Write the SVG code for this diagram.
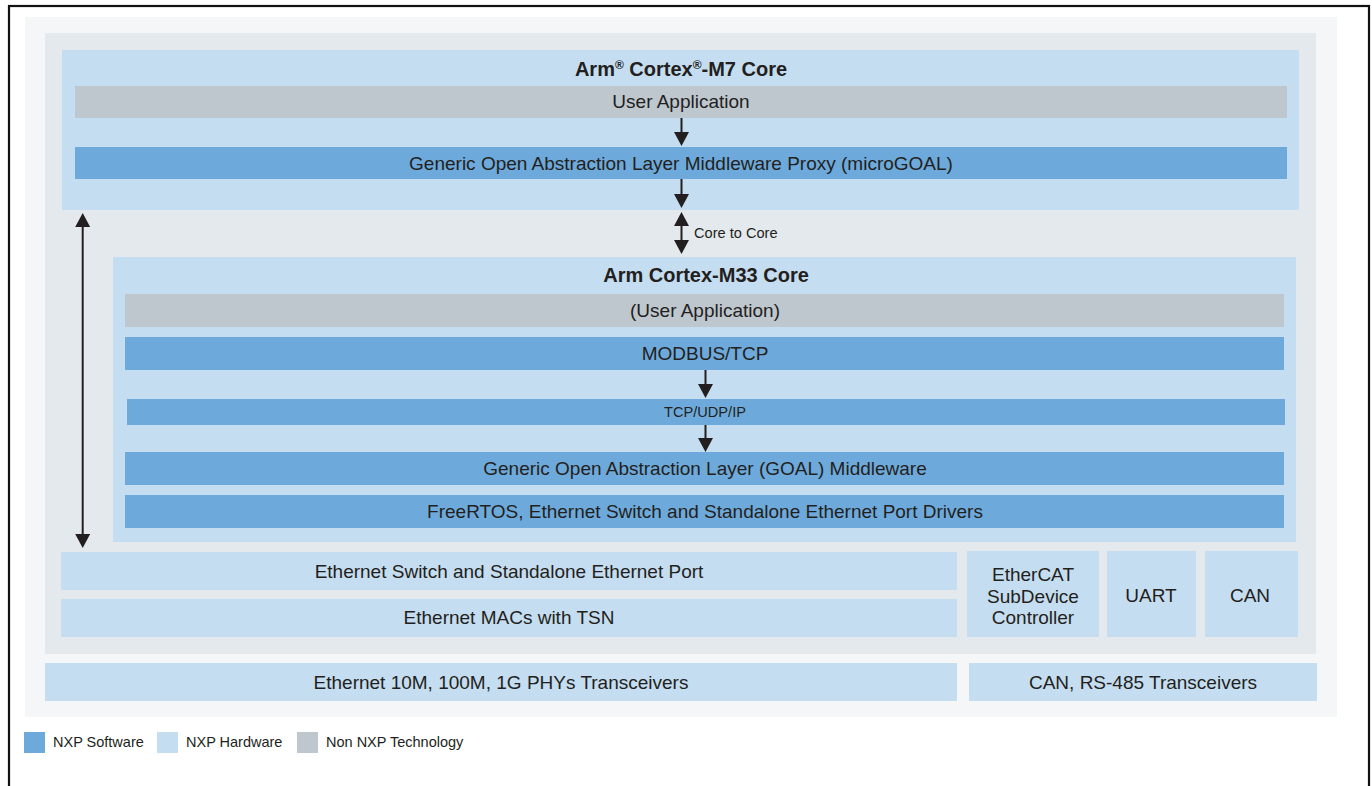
<svg xmlns="http://www.w3.org/2000/svg" width="1372" height="786" viewBox="0 0 1372 786">
<defs>
<style>
text{font-family:"Liberation Sans",Arial,sans-serif;fill:#231f20;text-anchor:middle}
.t{font-size:19px}
.b{font-size:20px;font-weight:bold}
.s{font-size:14.6px}
.l{font-size:14.5px;text-anchor:start}
.sw{fill:#6daadb}
.hw{fill:#c5ddf0}
.nx{fill:#bec6ce}
.ar{stroke:#231f20;stroke-width:2;fill:none}
</style>
<marker id="ah" viewBox="0 0 14 15" refX="11" refY="7.5" markerWidth="14" markerHeight="15" markerUnits="userSpaceOnUse" orient="auto-start-reverse">
<path d="M0,0 L14,7.5 L0,15 z" fill="#231f20"/>
</marker>
</defs>
<rect x="0" y="0" width="1372" height="786" fill="#fff"/>
<rect x="9" y="6" width="1360" height="800" fill="none" stroke="#111" stroke-width="2.2"/>
<rect x="25" y="17" width="1312" height="700" fill="#f4f6f8"/>
<rect x="45" y="33" width="1271" height="621" fill="#e3e9ec"/>

<g id="m7-core">
<rect class="hw" x="62" y="50" width="1237" height="160"/>
<text class="b" x="681" y="76">Arm<tspan font-size="12" dy="-7">®</tspan><tspan dy="7"> Cortex</tspan><tspan font-size="12" dy="-7">®</tspan><tspan dy="7">-M7 Core</tspan></text>
</g>
<g id="m7-user-app">
<rect class="nx" x="75" y="86" width="1212" height="32"/>
<text class="t" x="681" y="108">User Application</text>
</g>
<g id="m7-microgoal">
<rect class="sw" x="75" y="147" width="1212" height="32"/>
<text class="t" x="681" y="170">Generic Open Abstraction Layer Middleware Proxy (microGOAL)</text>
</g>

<g id="m33-core">
<rect class="hw" x="113" y="257" width="1183" height="285"/>
<text class="b" x="706" y="282">Arm Cortex-M33 Core</text>
</g>
<g id="m33-user-app">
<rect class="nx" x="125" y="294" width="1159" height="33"/>
<text class="t" x="705" y="317">(User Application)</text>
</g>
<g id="modbus">
<rect class="sw" x="125" y="337" width="1159" height="33"/>
<text class="t" x="705" y="360">MODBUS/TCP</text>
</g>
<g id="tcpip">
<rect class="sw" x="127" y="399" width="1158" height="26"/>
<text class="s" x="705" y="417">TCP/UDP/IP</text>
</g>
<g id="goal">
<rect class="sw" x="125" y="452" width="1159" height="33"/>
<text class="t" x="705" y="475">Generic Open Abstraction Layer (GOAL) Middleware</text>
</g>
<g id="freertos">
<rect class="sw" x="125" y="495" width="1159" height="33"/>
<text class="t" x="705" y="518">FreeRTOS, Ethernet Switch and Standalone Ethernet Port Drivers</text>
</g>

<g id="eth-switch">
<rect class="hw" x="61" y="552" width="896" height="38"/>
<text class="t" x="509" y="578">Ethernet Switch and Standalone Ethernet Port</text>
</g>
<g id="eth-mac">
<rect class="hw" x="61" y="599" width="896" height="38"/>
<text class="t" x="509" y="624">Ethernet MACs with TSN</text>
</g>
<g id="ethercat">
<rect class="hw" x="967" y="551" width="132" height="86"/>
<text class="t" x="1033" y="581">EtherCAT</text>
<text class="t" x="1033" y="603">SubDevice</text>
<text class="t" x="1033" y="624">Controller</text>
</g>
<g id="uart">
<rect class="hw" x="1107" y="551" width="89" height="86"/>
<text class="t" x="1151" y="602">UART</text>
</g>
<g id="can">
<rect class="hw" x="1205" y="551" width="93" height="86"/>
<text class="t" x="1250" y="602">CAN</text>
</g>
<g id="phy">
<rect class="hw" x="45" y="663" width="912" height="38"/>
<text class="t" x="501" y="689">Ethernet 10M, 100M, 1G PHYs Transceivers</text>
</g>
<g id="can-rs485">
<rect class="hw" x="969" y="663" width="348" height="38"/>
<text class="t" x="1143" y="689">CAN, RS-485 Transceivers</text>
</g>

<g id="connectors">
<line class="ar" x1="681.5" y1="118" x2="681.5" y2="143" marker-end="url(#ah)"/>
<line class="ar" x1="681.5" y1="179" x2="681.5" y2="205" marker-end="url(#ah)"/>
<line class="ar" x1="681.5" y1="215" x2="681.5" y2="251" marker-start="url(#ah)" marker-end="url(#ah)"/>
<text class="s" x="694" y="238" style="text-anchor:start">Core to Core</text>
<line class="ar" x1="705.5" y1="370" x2="705.5" y2="395" marker-end="url(#ah)"/>
<line class="ar" x1="705.5" y1="425" x2="705.5" y2="449" marker-end="url(#ah)"/>
<line class="ar" x1="82.7" y1="216" x2="82.7" y2="545" marker-start="url(#ah)" marker-end="url(#ah)"/>
</g>

<g id="legend">
<rect class="sw" x="24" y="732" width="21" height="21"/>
<text class="l" x="53" y="747">NXP Software</text>
<rect class="hw" x="157" y="732" width="21" height="21"/>
<text class="l" x="186" y="747">NXP Hardware</text>
<rect class="nx" x="297" y="732" width="21" height="21"/>
<text class="l" x="326" y="747">Non NXP Technology</text>
</g>
</svg>
